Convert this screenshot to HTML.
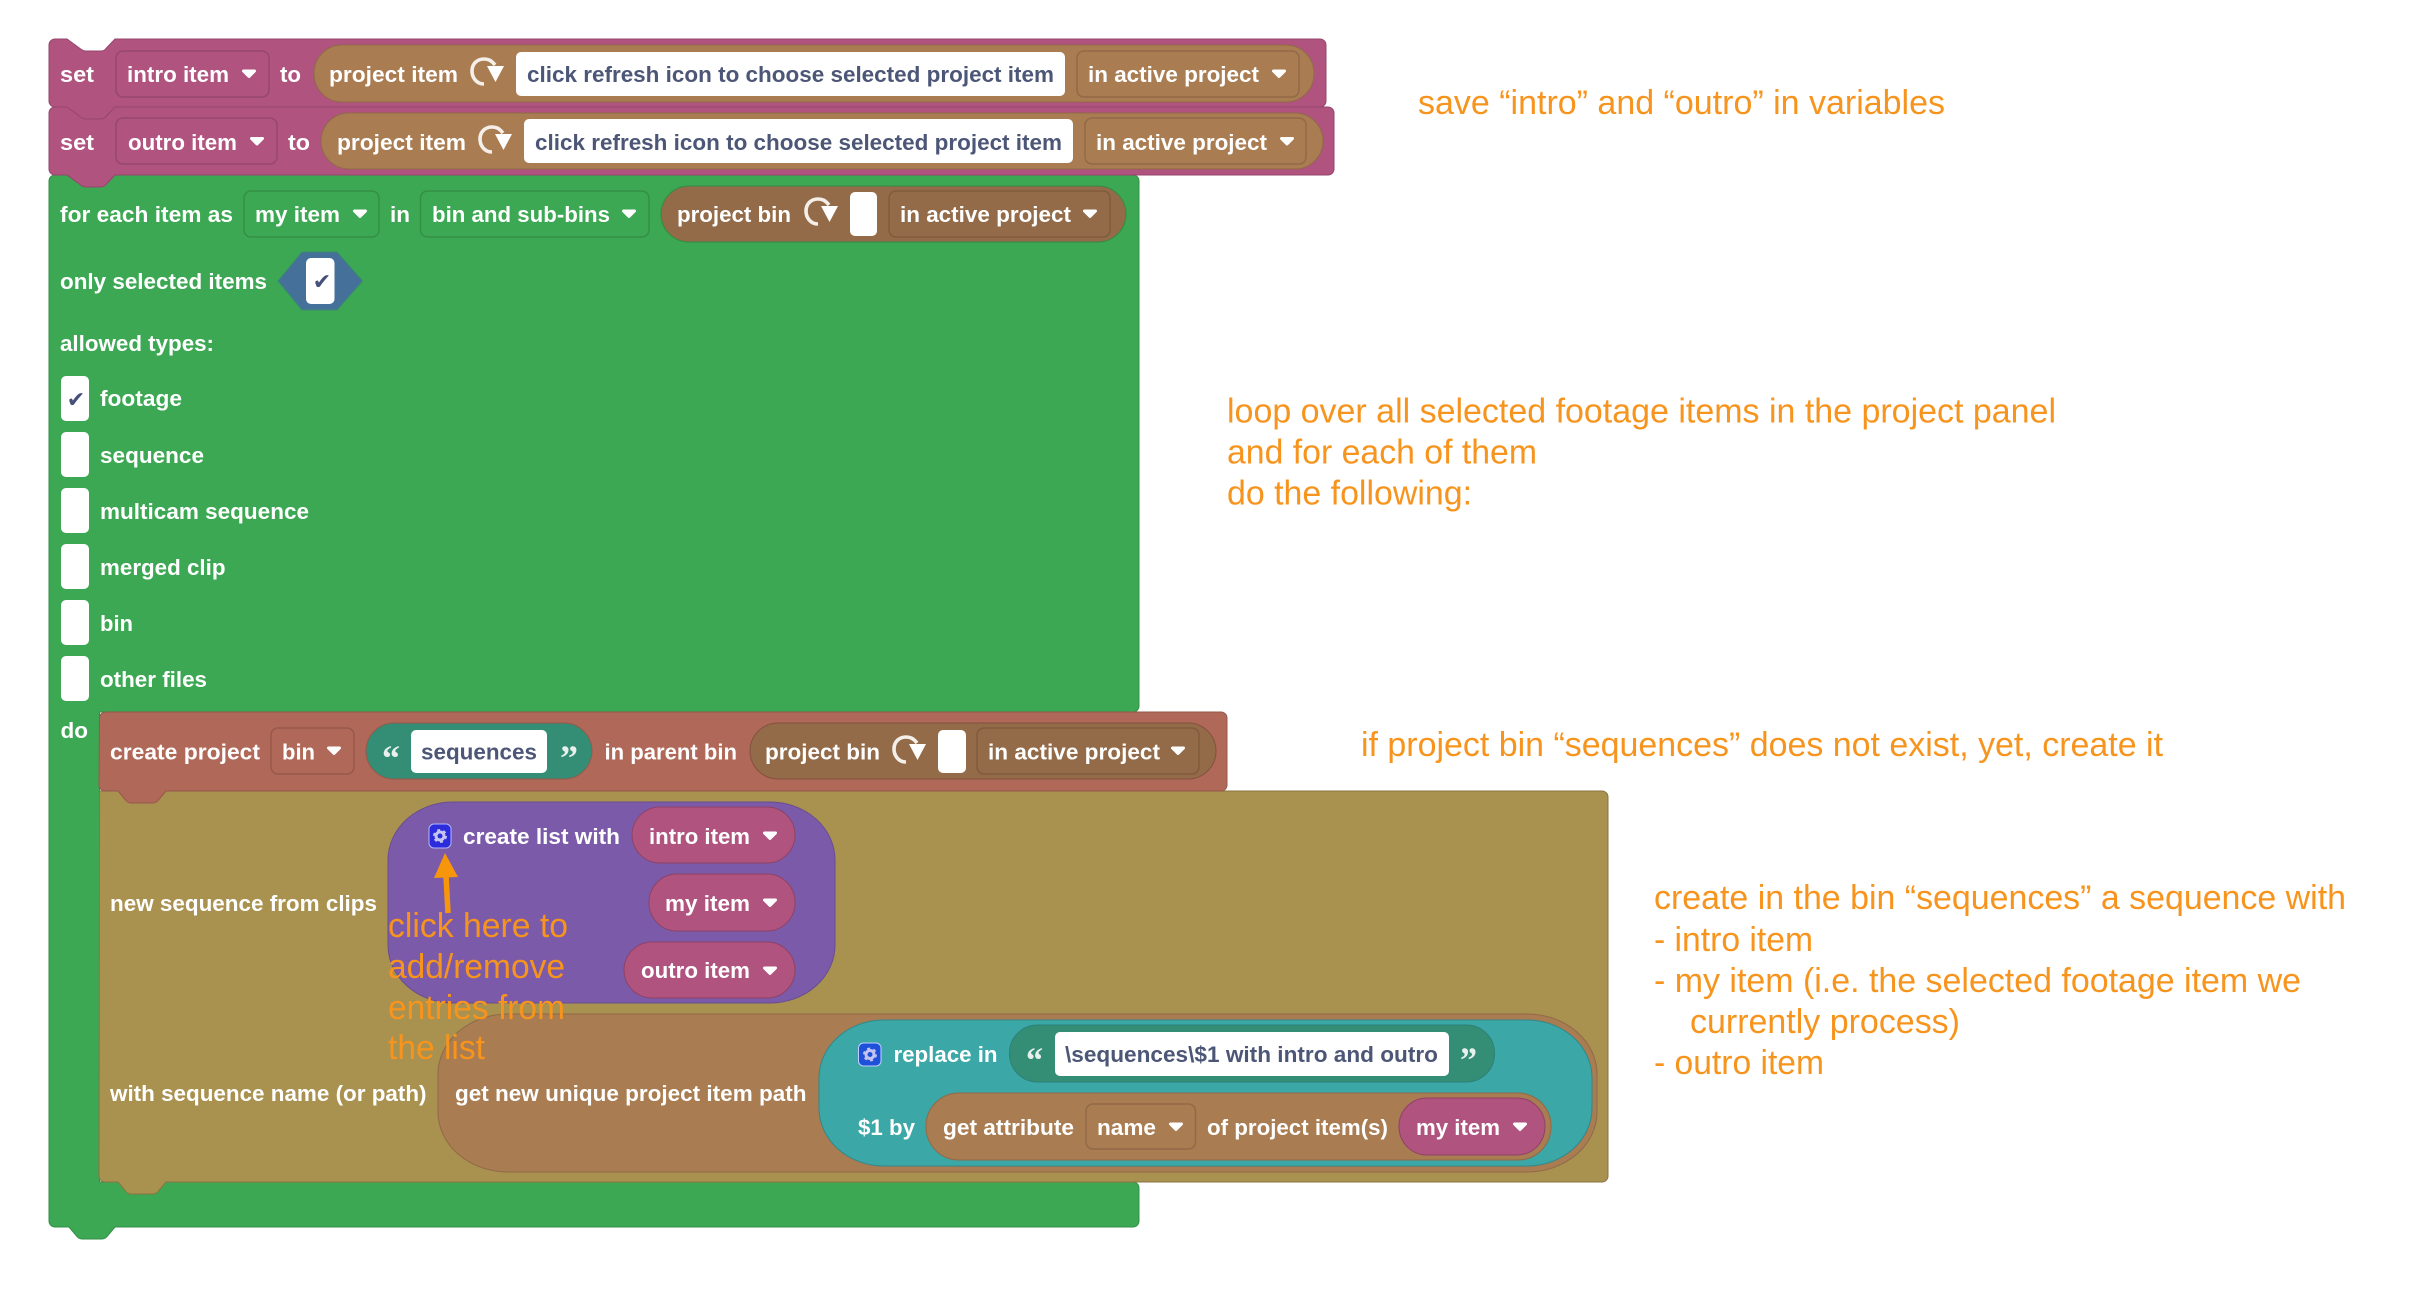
<!DOCTYPE html>
<html><head><meta charset="utf-8"><title>Blocks</title>
<style>
html,body{margin:0;padding:0;background:#fff;width:2420px;height:1290px;overflow:hidden}
svg{display:block}
.b{font:bold 22px "Liberation Sans",sans-serif;fill:#fff}
.f{font:bold 22px "Liberation Sans",sans-serif;fill:#4c5676}
.a{font:34px "Liberation Sans",sans-serif;fill:#f7941d}
.q{font:bold 36px "Liberation Serif",serif;fill:#e8f0ee}
.d{fill:none;stroke:rgba(0,0,0,.14);stroke-width:1.5}
.w{fill:#fff}
.c{font:22px "DejaVu Sans",sans-serif;fill:#46507a}
</style></head><body>
<svg xmlns="http://www.w3.org/2000/svg" width="2420" height="1290" viewBox="0 0 2420 1290">
<defs>
<path id="t" d="M-5.5,-3H5.5L0,2.5Z" fill="#fff" stroke="#fff" stroke-width="3" stroke-linejoin="round"/>
<g id="r"><path d="M14,27C6,27 2,20 2,14C2,6 8,2 14,2C18,2 21,3 25,8" fill="none" stroke="#f4efe9" stroke-width="3.6"/><path d="M17,9H34L25.5,25Z" fill="#fff"/></g>
<g id="g"><circle r="4" fill="none" stroke="#c4c4f2" stroke-width="3"/><circle r="6" fill="none" stroke="#c4c4f2" stroke-width="2" stroke-dasharray="3 3.3"/></g>
</defs>

<!-- green loop block -->
<path d="M49,181a6,6 0 0 1 6,-6H1133a6,6 0 0 1 6,6V706a6,6 0 0 1 -6,6H99.5V1182H1133a6,6 0 0 1 6,6V1221a6,6 0 0 1 -6,6H115l-8,9.5q-2,2.5 -5,2.5H82q-3,0 -5,-2.5l-8,-9.5H55a6,6 0 0 1 -6,-6Z" fill="#3ca853" stroke="#338f48" stroke-width="1"/>

<!-- olive block -->
<path d="M99.5,791H1602a6,6 0 0 1 6,6V1176a6,6 0 0 1 -6,6H166l-8,9.5q-2,2.5 -5,2.5H131q-3,0 -5,-2.5l-8,-9.5H105a6,6 0 0 1 -6,-6Z" fill="#a99150" stroke="#8a7440" stroke-width="1"/>

<!-- red block -->
<path d="M99.5,718a6,6 0 0 1 6,-6H1221a6,6 0 0 1 6,6V785a6,6 0 0 1 -6,6H166l-8,9.5q-2,2.5 -5,2.5H131q-3,0 -5,-2.5l-8,-9.5H105a6,6 0 0 1 -6,-6Z" fill="#b06858" stroke="#95594b" stroke-width="1"/>

<!-- set outro -->
<path d="M49,113a6,6 0 0 1 6,-6H1328a6,6 0 0 1 6,6V169a6,6 0 0 1 -6,6H115l-9,9.5q-2,2.5 -5,2.5H86q-3,0 -6,-2.5l-13,-9.5H55a6,6 0 0 1 -6,-6Z" fill="#b0537f" stroke="#96466d" stroke-width="1"/>
<!-- set intro -->
<path d="M49,45a6,6 0 0 1 6,-6H67l13,9.5q3,2.5 6,2.5H101q3,0 5,-2.5l9,-9.5H1320a6,6 0 0 1 6,6V101a6,6 0 0 1 -6,6H115l-9,9.5q-2,2.5 -5,2.5H86q-3,0 -6,-2.5l-13,-9.5H55a6,6 0 0 1 -6,-6Z" fill="#b0537f" stroke="#96466d" stroke-width="1"/>

<!-- row 1 -->
<text class="b" x="60" y="82" textLength="34" lengthAdjust="spacingAndGlyphs">set</text>
<rect class="d" x="116" y="51" width="153" height="46" rx="7"/>
<text class="b" x="127" y="82" textLength="102" lengthAdjust="spacingAndGlyphs">intro item</text>
<use href="#t" x="249" y="74"/>
<text class="b" x="280" y="82" textLength="21" lengthAdjust="spacingAndGlyphs">to</text>
<rect x="314" y="45" width="1000" height="57" rx="28" fill="#a97c52" stroke="#8f6a48" stroke-width="1"/>
<text class="b" x="329" y="82" textLength="129" lengthAdjust="spacingAndGlyphs">project item</text>
<use href="#r" x="470" y="57"/>
<rect class="w" x="516" y="52" width="549" height="44" rx="5"/>
<text class="f" x="527" y="82" textLength="527" lengthAdjust="spacingAndGlyphs">click refresh icon to choose selected project item</text>
<rect class="d" x="1077" y="51" width="222" height="46" rx="7"/>
<text class="b" x="1088" y="82" textLength="171" lengthAdjust="spacingAndGlyphs">in active project</text>
<use href="#t" x="1279" y="74"/>

<!-- row 2 -->
<text class="b" x="60" y="150" textLength="34" lengthAdjust="spacingAndGlyphs">set</text>
<rect class="d" x="116" y="118" width="161" height="46" rx="7"/>
<text class="b" x="128" y="150" textLength="109" lengthAdjust="spacingAndGlyphs">outro item</text>
<use href="#t" x="257" y="141.5"/>
<text class="b" x="288" y="150" textLength="22" lengthAdjust="spacingAndGlyphs">to</text>
<rect x="321" y="113" width="1002" height="56" rx="28" fill="#a97c52" stroke="#8f6a48" stroke-width="1"/>
<text class="b" x="337" y="150" textLength="129" lengthAdjust="spacingAndGlyphs">project item</text>
<use href="#r" x="478" y="125"/>
<rect class="w" x="524" y="119" width="549" height="44" rx="5"/>
<text class="f" x="535" y="150" textLength="527" lengthAdjust="spacingAndGlyphs">click refresh icon to choose selected project item</text>
<rect class="d" x="1085" y="118" width="221" height="46" rx="7"/>
<text class="b" x="1096" y="150" textLength="171" lengthAdjust="spacingAndGlyphs">in active project</text>
<use href="#t" x="1287" y="141.5"/>

<!-- for each -->
<text class="b" x="60" y="222" textLength="173" lengthAdjust="spacingAndGlyphs">for each item as</text>
<rect class="d" x="244" y="191" width="135" height="46" rx="7"/>
<text class="b" x="255" y="222" textLength="85" lengthAdjust="spacingAndGlyphs">my item</text>
<use href="#t" x="360" y="214"/>
<text class="b" x="390" y="222" textLength="20" lengthAdjust="spacingAndGlyphs">in</text>
<rect class="d" x="420.5" y="191" width="228.5" height="46" rx="7"/>
<text class="b" x="432" y="222" textLength="178" lengthAdjust="spacingAndGlyphs">bin and sub-bins</text>
<use href="#t" x="629" y="214"/>
<rect x="661" y="186" width="465" height="56" rx="28" fill="#946b49" stroke="#338a45" stroke-width="1"/>
<text class="b" x="677" y="222" textLength="114" lengthAdjust="spacingAndGlyphs">project bin</text>
<use href="#r" x="804" y="197"/>
<rect class="w" x="850" y="192" width="27" height="44" rx="5"/>
<rect class="d" x="889" y="191" width="221" height="46" rx="7"/>
<text class="b" x="900" y="222" textLength="171" lengthAdjust="spacingAndGlyphs">in active project</text>
<use href="#t" x="1090" y="214"/>

<text class="b" x="60" y="289" textLength="207" lengthAdjust="spacingAndGlyphs">only selected items</text>
<polygon points="278,281 302,252 337,252 362.5,281 337,310 302,310" fill="#457099" stroke="#3a8a70" stroke-width="1"/>
<rect class="w" x="306" y="258" width="28.5" height="46" rx="5"/>
<text class="c" x="322" y="289" text-anchor="middle">✔</text>

<text class="b" x="60" y="351" textLength="154" lengthAdjust="spacingAndGlyphs">allowed types:</text>

<rect class="w" x="61" y="376" width="28" height="45" rx="5"/>
<text class="c" x="76" y="407" text-anchor="middle">✔</text>
<text class="b" x="100" y="406" textLength="82" lengthAdjust="spacingAndGlyphs">footage</text>
<rect class="w" x="61" y="432" width="28" height="45" rx="5"/>
<text class="b" x="100" y="463" textLength="104" lengthAdjust="spacingAndGlyphs">sequence</text>
<rect class="w" x="61" y="488" width="28" height="45" rx="5"/>
<text class="b" x="100" y="519" textLength="209" lengthAdjust="spacingAndGlyphs">multicam sequence</text>
<rect class="w" x="61" y="544" width="28" height="45" rx="5"/>
<text class="b" x="100" y="575" textLength="125.5" lengthAdjust="spacingAndGlyphs">merged clip</text>
<rect class="w" x="61" y="600" width="28" height="45" rx="5"/>
<text class="b" x="100" y="631" textLength="33" lengthAdjust="spacingAndGlyphs">bin</text>
<rect class="w" x="61" y="656" width="28" height="45" rx="5"/>
<text class="b" x="100" y="687" textLength="107" lengthAdjust="spacingAndGlyphs">other files</text>
<text class="b" x="60.5" y="738" textLength="27.5" lengthAdjust="spacingAndGlyphs">do</text>

<!-- create project -->
<text class="b" x="110" y="759.5" textLength="150" lengthAdjust="spacingAndGlyphs">create project</text>
<rect class="d" x="271" y="728" width="83" height="46" rx="7"/>
<text class="b" x="282" y="759.5" textLength="33" lengthAdjust="spacingAndGlyphs">bin</text>
<use href="#t" x="334" y="751"/>
<rect x="366" y="723" width="226" height="56" rx="28" fill="#338e75" stroke="#95594b" stroke-width="1"/>
<text class="q" x="382" y="770" textLength="18" lengthAdjust="spacingAndGlyphs">“</text>
<rect class="w" x="411" y="730" width="136" height="43" rx="5"/>
<text class="f" x="421" y="759.5" textLength="116" lengthAdjust="spacingAndGlyphs">sequences</text>
<text class="q" x="560" y="770" textLength="18" lengthAdjust="spacingAndGlyphs">”</text>
<text class="b" x="604.5" y="759.5" textLength="132.5" lengthAdjust="spacingAndGlyphs">in parent bin</text>
<rect x="750" y="723" width="466" height="56" rx="28" fill="#946b49" stroke="#82513f" stroke-width="1"/>
<text class="b" x="765" y="759.5" textLength="115" lengthAdjust="spacingAndGlyphs">project bin</text>
<use href="#r" x="892" y="735"/>
<rect class="w" x="938" y="730" width="28" height="43" rx="5"/>
<rect class="d" x="977" y="728" width="222" height="46" rx="7"/>
<text class="b" x="988" y="759.5" textLength="172" lengthAdjust="spacingAndGlyphs">in active project</text>
<use href="#t" x="1178" y="751"/>

<!-- new sequence -->
<text class="b" x="110" y="911" textLength="267" lengthAdjust="spacingAndGlyphs">new sequence from clips</text>
<rect x="388" y="802" width="447" height="201" rx="65" ry="58" fill="#7b5ba9" stroke="#684d90" stroke-width="1"/>
<rect x="429" y="824" width="22" height="24" rx="5" fill="#2c2cdc" stroke="#b4b4ff" stroke-width="1"/>
<use href="#g" x="440" y="836"/>
<text class="b" x="463" y="844" textLength="157" lengthAdjust="spacingAndGlyphs">create list with</text>
<rect x="632" y="807" width="163" height="56" rx="28" fill="#b0537f" stroke="#8d4266" stroke-width="1"/>
<text class="b" x="649" y="844" textLength="101" lengthAdjust="spacingAndGlyphs">intro item</text>
<use href="#t" x="770" y="836"/>
<rect x="649" y="874" width="146" height="57" rx="28" fill="#b0537f" stroke="#8d4266" stroke-width="1"/>
<text class="b" x="665" y="911" textLength="85" lengthAdjust="spacingAndGlyphs">my item</text>
<use href="#t" x="770" y="903"/>
<rect x="624" y="942" width="171" height="56" rx="28" fill="#b0537f" stroke="#8d4266" stroke-width="1"/>
<text class="b" x="641" y="978" textLength="109" lengthAdjust="spacingAndGlyphs">outro item</text>
<use href="#t" x="770" y="971"/>

<!-- sequence name -->
<text class="b" x="110" y="1101" textLength="316.5" lengthAdjust="spacingAndGlyphs">with sequence name (or path)</text>
<rect x="438" y="1014" width="1159" height="158" rx="70" ry="60" fill="#a97c52" stroke="#8f6a48" stroke-width="1"/>
<text class="b" x="455" y="1101" textLength="351.5" lengthAdjust="spacingAndGlyphs">get new unique project item path</text>
<rect x="819" y="1020" width="773" height="146" rx="65" ry="58" fill="#3ba7a7" stroke="#30888a" stroke-width="1"/>
<rect x="858.5" y="1043" width="22.5" height="23" rx="5" fill="#1e50d8" stroke="#c0cfff" stroke-width="1"/>
<use href="#g" x="870" y="1054.5"/>
<text class="b" x="893.5" y="1062" textLength="104" lengthAdjust="spacingAndGlyphs">replace in</text>
<rect x="1009.5" y="1025" width="485" height="57" rx="28" fill="#338e75" stroke="#2e8078" stroke-width="1"/>
<text class="q" x="1026" y="1072" textLength="17" lengthAdjust="spacingAndGlyphs">“</text>
<rect class="w" x="1055" y="1032" width="394" height="44" rx="5"/>
<text class="f" x="1065" y="1062" textLength="373" lengthAdjust="spacingAndGlyphs">\sequences\$1 with intro and outro</text>
<text class="q" x="1460" y="1072" textLength="17" lengthAdjust="spacingAndGlyphs">”</text>
<text class="b" x="858" y="1135" textLength="57" lengthAdjust="spacingAndGlyphs">$1 by</text>
<rect x="926" y="1093" width="625" height="67" rx="33" fill="#a97c52" stroke="#8f6a48" stroke-width="1"/>
<text class="b" x="943" y="1135" textLength="131" lengthAdjust="spacingAndGlyphs">get attribute</text>
<rect class="d" x="1086" y="1104" width="109.5" height="45" rx="7"/>
<text class="b" x="1097" y="1135" textLength="59" lengthAdjust="spacingAndGlyphs">name</text>
<use href="#t" x="1176" y="1127"/>
<text class="b" x="1207" y="1135" textLength="181" lengthAdjust="spacingAndGlyphs">of project item(s)</text>
<rect x="1399" y="1098" width="146" height="57" rx="28" fill="#b0537f" stroke="#8d4266" stroke-width="1"/>
<text class="b" x="1416" y="1135" textLength="84" lengthAdjust="spacingAndGlyphs">my item</text>
<use href="#t" x="1520" y="1127"/>

<!-- arrow -->
<path d="M448,913L446,875" stroke="#f7960a" stroke-width="5.5" fill="none"/>
<polygon points="445,853 458,877 434,878" fill="#f7960a"/>

<!-- annotations -->
<text class="a" x="388" y="937" textLength="180" lengthAdjust="spacingAndGlyphs">click here to</text>
<text class="a" x="388" y="978" textLength="177" lengthAdjust="spacingAndGlyphs">add/remove</text>
<text class="a" x="388" y="1019" textLength="177" lengthAdjust="spacingAndGlyphs">entries from</text>
<text class="a" x="388" y="1059" textLength="97" lengthAdjust="spacingAndGlyphs">the list</text>

<text class="a" x="1418" y="114" textLength="527" lengthAdjust="spacingAndGlyphs">save “intro” and “outro” in variables</text>
<text class="a" x="1227" y="422.5" textLength="829" lengthAdjust="spacingAndGlyphs">loop over all selected footage items in the project panel</text>
<text class="a" x="1227" y="463.5" textLength="310" lengthAdjust="spacingAndGlyphs">and for each of them</text>
<text class="a" x="1227" y="504.5" textLength="245" lengthAdjust="spacingAndGlyphs">do the following:</text>
<text class="a" x="1361" y="756" textLength="802" lengthAdjust="spacingAndGlyphs">if project bin “sequences” does not exist, yet, create it</text>
<text class="a" x="1654" y="909" textLength="692" lengthAdjust="spacingAndGlyphs">create in the bin “sequences” a sequence with</text>
<text class="a" x="1654" y="951" textLength="159" lengthAdjust="spacingAndGlyphs">- intro item</text>
<text class="a" x="1654" y="992" textLength="647" lengthAdjust="spacingAndGlyphs">- my item (i.e. the selected footage item we</text>
<text class="a" x="1690" y="1033" textLength="270" lengthAdjust="spacingAndGlyphs">currently process)</text>
<text class="a" x="1654" y="1074" textLength="170" lengthAdjust="spacingAndGlyphs">- outro item</text>
</svg>
</body></html>
